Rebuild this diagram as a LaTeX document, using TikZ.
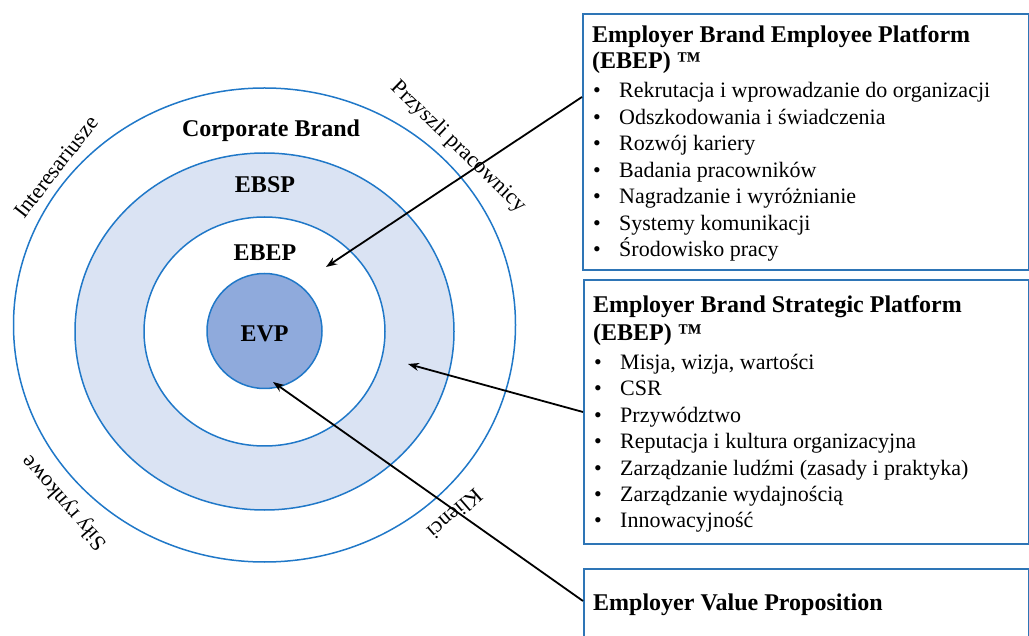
\documentclass[tikz,border=0pt]{standalone}
\usepackage{fontspec}
\setmainfont{Liberation Serif}
\usetikzlibrary{arrows.meta,shapes.geometric}

\definecolor{ringblue}{RGB}{32,120,200}
\definecolor{bandfill}{RGB}{218,227,243}
\definecolor{evpfill}{RGB}{143,170,220}
\definecolor{boxblue}{RGB}{46,117,182}

\begin{document}
\begin{tikzpicture}[x=1pt,y=-1pt,
  ring/.style={ellipse, draw=ringblue, line width=1.5pt, inner sep=0pt},
  panel/.style={draw=boxblue, line width=2pt, fill=white, inner sep=0pt, anchor=north west},
  ringlabel/.style={font=\fontsize{24}{28}\selectfont\bfseries, inner sep=0pt},
  sidelabel/.style={font=\fontsize{22}{26}\selectfont, inner sep=0pt},
  paneltitle/.style={font=\fontsize{24}{28}\selectfont\bfseries, anchor=base west, inner sep=0pt},
  item/.style={font=\fontsize{22}{26}\selectfont, anchor=base west, inner sep=0pt},
  pointer/.style={draw=black, line width=1.8pt, -{Stealth[length=11pt,width=8pt]}}
]
\useasboundingbox (0,0) rectangle (1029,636);
\clip (0,0) rectangle (1029,636);

% concentric rings
\node[ring, fill=white, minimum width=502pt, minimum height=474pt] (outer) at (264.5,325) {};
\node[ring, fill=bandfill, minimum width=379pt, minimum height=357pt] (middle) at (264.5,331.5) {};
\node[ring, fill=white, minimum width=241pt, minimum height=229pt] (inner) at (264.5,331.5) {};
\node[ring, fill=evpfill, minimum width=115pt, minimum height=115pt] (evp) at (264.5,331) {};

% ring labels
\node[ringlabel, anchor=base] (lcb) at (271,137) {Corporate Brand};
\node[ringlabel, anchor=base] (lebsp) at (265,193) {EBSP};
\node[ringlabel, anchor=base] (lebep) at (265,261) {EBEP};
\node[ringlabel, anchor=base] (levp) at (264.5,342) {EVP};

% labels around the outer ring
\node[sidelabel, rotate=52] (lint) at (56,167) {Interesariusze};
\node[sidelabel, rotate=-44] (lprz) at (458,147) {Przyszli pracownicy};
\node[sidelabel, rotate=131] (lsil) at (65,502) {Siły rynkowe};
\node[sidelabel, rotate=221] (lkli) at (455,514) {Klienci};

% panel 1
\node[panel, minimum width=446pt, minimum height=256pt] (p1) at (582,13) {};
\node[paneltitle] (p1t1) at (592,43) {Employer Brand Employee Platform};
\node[paneltitle] (p1t2) at (592,69) {(EBEP) ™};
\foreach \txt [count=\i from 0] in {Rekrutacja i wprowadzanie do organizacji,
    Odszkodowania i świadczenia, Rozwój kariery, Badania pracowników,
    Nagradzanie i wyróżnianie, Systemy komunikacji, Środowisko pracy}{
  \node[item] (p1b\i) at (593,{98+26.5*\i}) {•};
  \node[item] (p1i\i) at (619,{98+26.5*\i}) {\txt};
}

% panel 2
\node[panel, minimum width=445pt, minimum height=264pt] (p2) at (583,279) {};
\node[paneltitle] (p2t1) at (593,313) {Employer Brand Strategic Platform};
\node[paneltitle] (p2t2) at (593,341) {(EBEP) ™};
\foreach \txt [count=\i from 0] in {{Misja, wizja, wartości}, CSR, Przywództwo,
    Reputacja i kultura organizacyjna, Zarządzanie ludźmi (zasady i praktyka),
    Zarządzanie wydajnością, Innowacyjność}{
  \node[item] (p2b\i) at (594,{369.5+26.4*\i}) {•};
  \node[item] (p2i\i) at (620,{369.5+26.4*\i}) {\txt};
}

% panel 3
\node[panel, minimum width=445pt, minimum height=90pt] (p3) at (583,568) {};
\node[paneltitle] (p3t1) at (593,610) {Employer Value Proposition};

% pointers from the panels into the rings
\coordinate (s1) at (582,97);
\coordinate (e1) at (326,267);
\coordinate (s2) at (583,412);
\coordinate (e2) at (408,364);
\coordinate (s3) at (583,601);
\coordinate (e3) at (273,382);
\draw[pointer] (s1) -- (e1);
\draw[pointer] (s2) -- (e2);
\draw[pointer] (s3) -- (e3);
\end{tikzpicture}
\end{document}
